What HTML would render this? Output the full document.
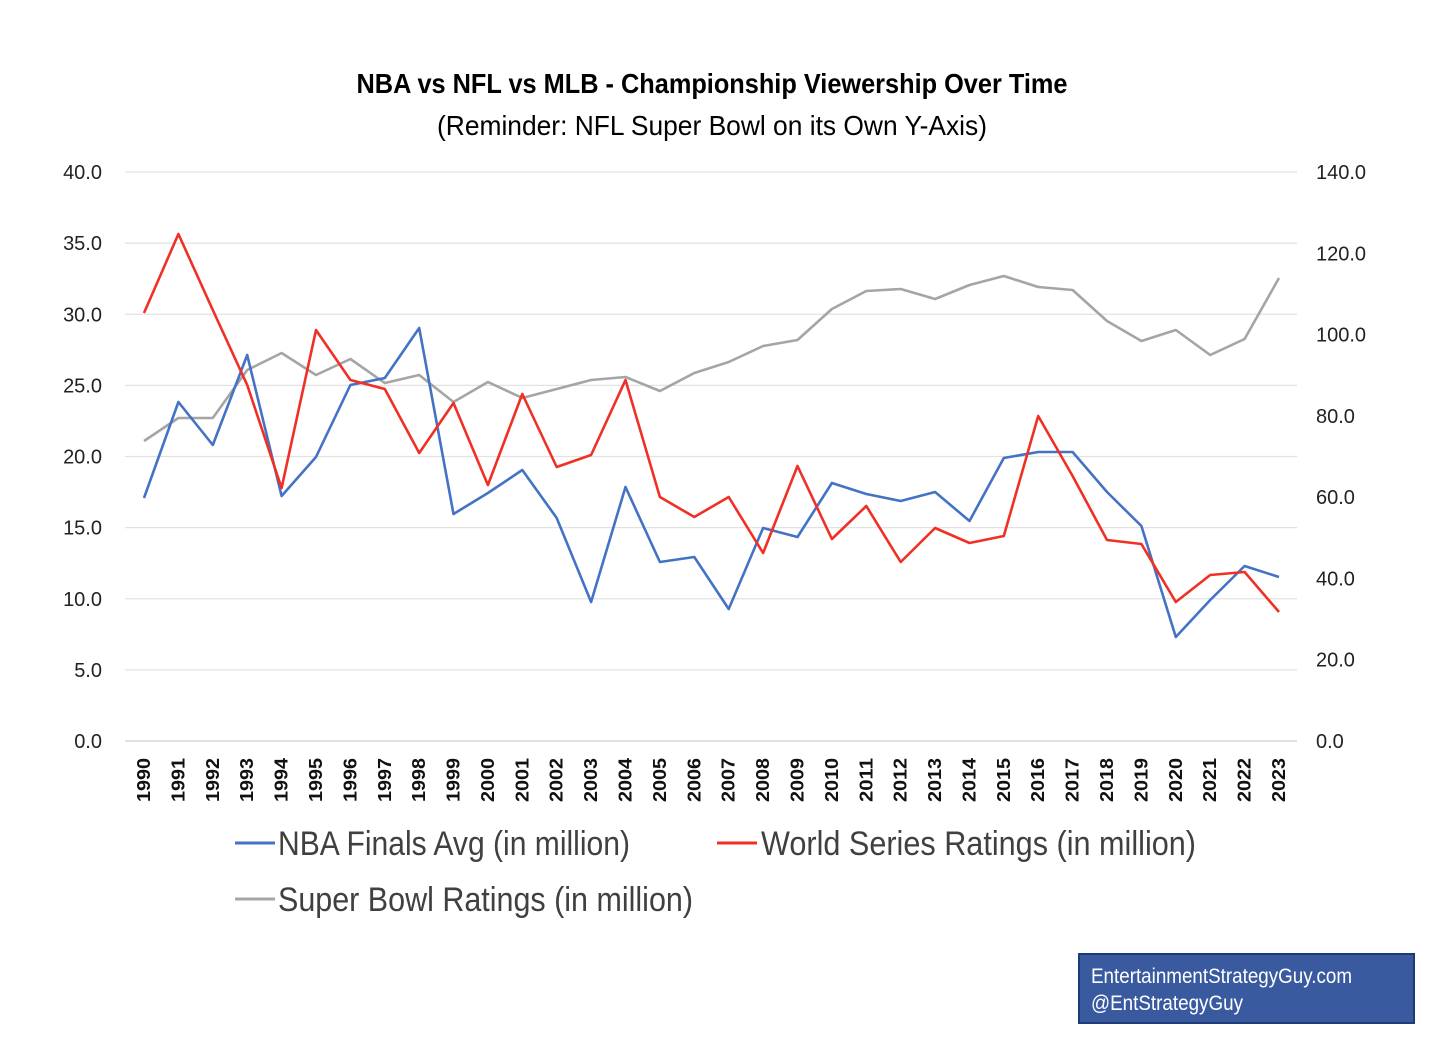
<!DOCTYPE html>
<html><head><meta charset="utf-8"><style>html,body{margin:0;padding:0;background:#fff}svg{display:block}</style></head>
<body>
<svg id="s" width="1448" height="1060" xmlns="http://www.w3.org/2000/svg" font-family="'Liberation Sans Narrow','Liberation Sans',sans-serif">
<text x="712" y="93" text-anchor="middle" font-size="28" font-weight="bold" textLength="711" lengthAdjust="spacingAndGlyphs">NBA vs NFL vs MLB - Championship Viewership Over Time</text>
<text x="712" y="135" text-anchor="middle" font-size="28" textLength="550" lengthAdjust="spacingAndGlyphs">(Reminder: NFL Super Bowl on its Own Y-Axis)</text>
<g id="grid"></g>
<g id="series"></g>
<g font-size="34" fill="#404040">
<line x1="235" y1="843" x2="275" y2="843" stroke="#4472C4" stroke-width="3"/>
<text x="278" y="855" textLength="352" lengthAdjust="spacingAndGlyphs">NBA Finals Avg (in million)</text>
<line x1="717" y1="843" x2="757" y2="843" stroke="#F03024" stroke-width="3"/>
<text x="761" y="855" textLength="435" lengthAdjust="spacingAndGlyphs">World Series Ratings (in million)</text>
<line x1="235" y1="899" x2="275" y2="899" stroke="#A5A5A5" stroke-width="3"/>
<text x="278" y="911" textLength="415" lengthAdjust="spacingAndGlyphs">Super Bowl Ratings (in million)</text>
</g>
<rect x="1079" y="954" width="335" height="69" fill="#3A5AA0" stroke="#1F3A78" stroke-width="2"/>
<text x="1091" y="983" fill="#fff" font-size="21" textLength="261" lengthAdjust="spacingAndGlyphs">EntertainmentStrategyGuy.com</text>
<text x="1091" y="1010" fill="#fff" font-size="21" textLength="152" lengthAdjust="spacingAndGlyphs">@EntStrategyGuy</text>
</svg>
<script>
var ns="http://www.w3.org/2000/svg",g=document.getElementById('grid'),se=document.getElementById('series');
function el(t,a,p,txt){var e=document.createElementNS(ns,t);for(var k in a)e.setAttribute(k,a[k]);if(txt!=null)e.textContent=txt;(p||g).appendChild(e);return e;}
for(var i=0;i<=8;i++){var y=741-i*569/8;
el('line',{x1:125,x2:1297,y1:y,y2:y,stroke:i==0?'#D0D0D0':'#E2E2E2','stroke-width':1.3});
el('text',{x:102,y:y+7,'text-anchor':'end','font-size':20,fill:'#222'},null,(i*5).toFixed(1));}
for(var i=0;i<=7;i++){var y=741-i*569/7;
el('text',{x:1316,y:y+7,'font-size':20,fill:'#222'},null,(i*20).toFixed(1));}
for(var i=0;i<34;i++){var x=144+i*1135/33;
el('text',{x:0,y:0,transform:'translate('+(x+6)+',802) rotate(-90)','font-size':18,'font-weight':'bold',fill:'#111',textLength:44,lengthAdjust:'spacingAndGlyphs'},null,String(1990+i));}
var sb=[441,418,418,370,353,375,359,383,375,402,382,398,389,380,377,391,373,362,346,340,309,291,289,299,285,276,287,290,321,341,330,355,339,278];
var nba=[498,402,445,355,496,457,385,378,328,514,493,470,518,602,487,562,557,609,528,537,483,494,501,492,521,458,452,452,492,526,637,600,566,577];
var ws=[313,234,310,385,488,330,380,389,453,403,485,394,467,455,380,497,517,497,553,466,539,506,562,528,543,536,416,476,540,544,602,575,572,612];
function pl(d,c){el('polyline',{points:d.map(function(y,i){return (144+i*1135/33).toFixed(1)+','+y}).join(' '),fill:'none',stroke:c,'stroke-width':2.6,'stroke-linejoin':'round'},se);}
pl(sb,'#A5A5A5');pl(nba,'#4472C4');pl(ws,'#F03024');
</script>
</body></html>
